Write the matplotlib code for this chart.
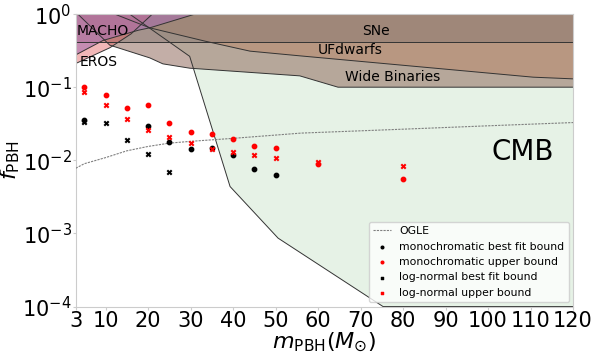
"""
PBH abundance bounds vs mass
"""

import numpy as np
import matplotlib as mpl
mpl.use("Agg")
import matplotlib.pyplot as plt

# constraint region boundaries (mass, log10 f)
cmb_m = [15.7, 29.8, 39.3, 50.6, 75.3, 130.0]
cmb_logf = [0.0, -0.577, -2.358, -3.064, -4.0, -4.0]
uf_m = [12.2, 20.4, 33.4, 44.0, 55.7, 110.6, 120.0, 130.0]
uf_logf = [0.0, -0.187, -0.369, -0.506, -0.570, -0.862, -0.885, -0.885]
wb_m = [3.5, 11.0, 20.4, 23.5, 29.8, 55.7, 64.7, 130.0]
wb_logf = [0.0, -0.424, -0.598, -0.680, -0.739, -0.844, -0.999, -0.999]
sne_m = [3.0, 130.0]
sne_logf = [-0.383, -0.383]
macho_m = [3.0, 9.4, 17.7, 20.4, 31.0]
macho_logf = [-0.557, -0.36, -0.22, -0.187, 0.0]
eros_m = [3.0, 11.0, 16.0, 21.0]
eros_logf = [-0.675, -0.46, -0.27, 0.0]

# OGLE microlensing curve
ogle_m = [3, 5, 10, 15, 20, 25, 30, 40, 56, 80, 100, 120]
ogle_f = [0.0078, 0.0090, 0.0109, 0.0135, 0.0155, 0.0172, 0.0182, 0.0200, 0.0236, 0.0267, 0.0297, 0.0329]

# bounds from this work
mono_fit_m = [5, 20, 25, 30, 35, 40, 45, 50]
mono_fit_f = [0.0358, 0.0294, 0.0177, 0.0141, 0.0146, 0.0118, 0.00765, 0.00633]
mono_ub_m = [5, 10, 15, 20, 25, 30, 35, 40, 45, 50, 60, 80]
mono_ub_f = [0.100, 0.079, 0.052, 0.057, 0.032, 0.0245, 0.0231, 0.0197, 0.0155, 0.0148, 0.0089, 0.0055]
ln_fit_m = [5, 10, 15, 20, 25]
ln_fit_f = [0.034, 0.0323, 0.0191, 0.0123, 0.0069]
ln_ub_m = [5, 10, 15, 20, 25, 30, 35, 40, 45, 50, 60, 80]
ln_ub_f = [0.085, 0.058, 0.037, 0.026, 0.021, 0.0172, 0.0145, 0.0132, 0.0118, 0.0108, 0.0096, 0.0084]

xticks = [3, 10, 20, 30, 40, 50, 60, 70, 80, 90, 100, 110, 120]


def region(ax, m, logf, color, alpha):
    m = list(m) + [m[-1], m[0]]
    f = list(10**np.array(logf)) + [1.0, 1.0]
    ax.fill(m, f, facecolor=color, alpha=alpha, edgecolor="none", zorder=1)
    ax.plot(m[:-2], f[:-2], color="#333333", lw=0.7, zorder=2)


def main():
    fig = plt.figure(figsize=(5.92, 3.54), dpi=100)
    ax = fig.add_axes([0.128, 0.134, 0.840, 0.826])

    region(ax, cmb_m, cmb_logf, "#e6f2e6", 1.0)
    region(ax, wb_m, wb_logf, "#885e50", 0.5)
    region(ax, uf_m, uf_logf, "#bb8869", 0.5)
    region(ax, sne_m, sne_logf, "#877872", 0.5)
    region(ax, eros_m, eros_logf, "#e06060", 0.45)
    region(ax, macho_m, macho_logf, "#a870b0", 0.6)

    ax.plot(ogle_m, ogle_f, color="gray", ls="--", lw=0.8, dashes=(2, 1), label="OGLE", zorder=3)
    ax.scatter(mono_fit_m, mono_fit_f, s=10, c="black", marker="o", label="monochromatic best fit bound", zorder=4)
    ax.scatter(mono_ub_m, mono_ub_f, s=10, c="red", marker="o", label="monochromatic upper bound", zorder=4)
    ax.scatter(ln_fit_m, ln_fit_f, s=10, c="black", marker="x", label="log-normal best fit bound", zorder=4)
    ax.scatter(ln_ub_m, ln_ub_f, s=10, c="red", marker="x", label="log-normal upper bound", zorder=4)

    ax.text(3.3, 0.59, "MACHO", fontsize=10, va="center", zorder=5)
    ax.text(4.0, 0.223, "EROS", fontsize=10, va="center", zorder=5)
    ax.text(70.3, 0.59, "SNe", fontsize=10, va="center", zorder=5)
    ax.text(60.0, 0.325, "UFdwarfs", fontsize=10, va="center", zorder=5)
    ax.text(66.3, 0.139, "Wide Binaries", fontsize=10, va="center", zorder=5)
    ax.text(100.9, 0.013, "CMB", fontsize=20, va="center", zorder=5)

    ax.set_yscale("log")
    ax.set_xlim(3, 120)
    ax.set_ylim(1e-4, 1)
    ax.set_xticks(xticks)
    ax.minorticks_off()
    ax.tick_params(labelsize=15, length=2, color="#cccccc", pad=1)
    for s in ax.spines.values():
        s.set_color("#cccccc")
    ax.set_xlabel(r"$m_{\rm PBH}(M_{\odot})$", fontsize=16, labelpad=0)
    ax.set_ylabel(r"$f_{\rm PBH}$", fontsize=16, labelpad=0)
    ax.legend(loc="lower right", fontsize=7.8, frameon=True, markerscale=0.6,
              handlelength=1.6, borderaxespad=0.4)
    fig.savefig("out.png")


if __name__ == "__main__":
    main()
